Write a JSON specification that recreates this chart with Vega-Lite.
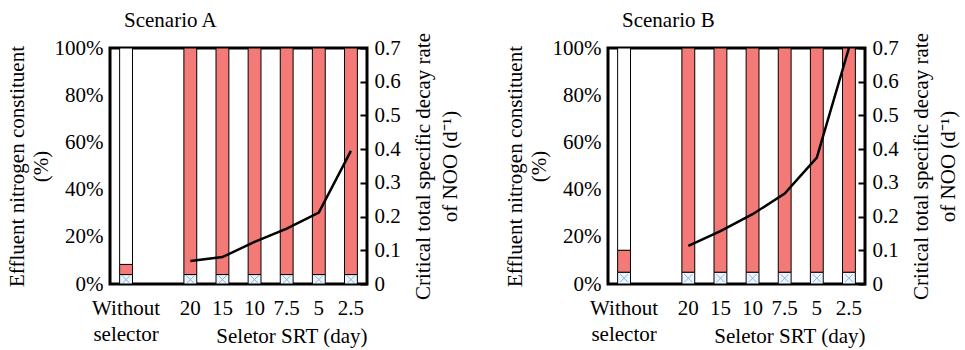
{
  "$schema": "https://vega.github.io/schema/vega-lite/v6.json",
  "padding": {"left": 4, "top": 8, "right": 5, "bottom": 0},
  "datasets": {
    "bars": [
      {"scen": "A", "cat": "Without selector", "part": "hatched", "ord": 1, "v": 0.04},
      {"scen": "A", "cat": "Without selector", "part": "red", "ord": 2, "v": 0.043},
      {"scen": "A", "cat": "Without selector", "part": "white", "ord": 3, "v": 0.917},
      {"scen": "A", "cat": "20", "part": "hatched", "ord": 1, "v": 0.04},
      {"scen": "A", "cat": "20", "part": "red", "ord": 2, "v": 0.96},
      {"scen": "A", "cat": "15", "part": "hatched", "ord": 1, "v": 0.04},
      {"scen": "A", "cat": "15", "part": "red", "ord": 2, "v": 0.96},
      {"scen": "A", "cat": "10", "part": "hatched", "ord": 1, "v": 0.04},
      {"scen": "A", "cat": "10", "part": "red", "ord": 2, "v": 0.96},
      {"scen": "A", "cat": "7.5", "part": "hatched", "ord": 1, "v": 0.04},
      {"scen": "A", "cat": "7.5", "part": "red", "ord": 2, "v": 0.96},
      {"scen": "A", "cat": "5", "part": "hatched", "ord": 1, "v": 0.04},
      {"scen": "A", "cat": "5", "part": "red", "ord": 2, "v": 0.96},
      {"scen": "A", "cat": "2.5", "part": "hatched", "ord": 1, "v": 0.04},
      {"scen": "A", "cat": "2.5", "part": "red", "ord": 2, "v": 0.96},
      {"scen": "B", "cat": "Without selector", "part": "hatched", "ord": 1, "v": 0.05},
      {"scen": "B", "cat": "Without selector", "part": "red", "ord": 2, "v": 0.093},
      {"scen": "B", "cat": "Without selector", "part": "white", "ord": 3, "v": 0.857},
      {"scen": "B", "cat": "20", "part": "hatched", "ord": 1, "v": 0.05},
      {"scen": "B", "cat": "20", "part": "red", "ord": 2, "v": 0.95},
      {"scen": "B", "cat": "15", "part": "hatched", "ord": 1, "v": 0.05},
      {"scen": "B", "cat": "15", "part": "red", "ord": 2, "v": 0.95},
      {"scen": "B", "cat": "10", "part": "hatched", "ord": 1, "v": 0.05},
      {"scen": "B", "cat": "10", "part": "red", "ord": 2, "v": 0.95},
      {"scen": "B", "cat": "7.5", "part": "hatched", "ord": 1, "v": 0.05},
      {"scen": "B", "cat": "7.5", "part": "red", "ord": 2, "v": 0.95},
      {"scen": "B", "cat": "5", "part": "hatched", "ord": 1, "v": 0.05},
      {"scen": "B", "cat": "5", "part": "red", "ord": 2, "v": 0.95},
      {"scen": "B", "cat": "2.5", "part": "hatched", "ord": 1, "v": 0.05},
      {"scen": "B", "cat": "2.5", "part": "red", "ord": 2, "v": 0.95}
    ],
    "rate": [
      {"scen": "A", "cat": "20", "k": 0.068},
      {"scen": "A", "cat": "15", "k": 0.08},
      {"scen": "A", "cat": "10", "k": 0.125},
      {"scen": "A", "cat": "7.5", "k": 0.164},
      {"scen": "A", "cat": "5", "k": 0.212},
      {"scen": "A", "cat": "2.5", "k": 0.395},
      {"scen": "B", "cat": "20", "k": 0.113},
      {"scen": "B", "cat": "15", "k": 0.157},
      {"scen": "B", "cat": "10", "k": 0.207},
      {"scen": "B", "cat": "7.5", "k": 0.268},
      {"scen": "B", "cat": "5", "k": 0.375},
      {"scen": "B", "cat": "2.5", "k": 0.7}
    ]
  },
  "hconcat": [
    {
      "width": 257,
      "height": 236,
      "title": {"text": "Scenario A", "anchor": "start", "frame": "group", "dx": 14, "offset": 1},
      "layer": [
        {
          "data": {"name": "bars"},
          "transform": [{"filter": "datum.scen == 'A'"}],
          "mark": {"type": "bar", "stroke": "black", "strokeWidth": 1},
          "encoding": {
            "x": {"field": "cat", "type": "nominal", "sort": null,
              "scale": {"domain": ["Without selector", "gap", "20", "15", "10", "7.5", "5", "2.5"], "paddingInner": 0.6, "paddingOuter": 0.3},
              "axis": {"labelAngle": 0, "ticks": false, "domain": false, "labelPadding": 13, "labelLineHeight": 26,
                "labelExpr": "datum.value == 'Without selector' ? ['Without', 'selector'] : datum.value == 'gap' ? '' : datum.value",
                "title": "Seletor SRT (day)", "titleAnchor": "end", "titlePadding": -19}},
            "y": {"field": "v", "type": "quantitative", "stack": "zero",
              "scale": {"domain": [0, 1]},
              "axis": {"values": [0, 0.2, 0.4, 0.6, 0.8, 1], "format": ".0%", "ticks": false, "domain": false, "grid": false, "labelPadding": 7,
                "title": ["Effluent nitrogen constituent", "(%)"], "titlePadding": 3, "titleLineHeight": 24}},
            "color": {"field": "part", "type": "nominal", "scale": {"domain": ["hatched", "red", "white"], "range": ["#eef4fb", "#f47a77", "#ffffff"]}, "legend": null},
            "order": {"field": "ord"}
          }
        },
        {
          "data": {"name": "bars"},
          "transform": [{"filter": "datum.scen == 'A' && datum.part == 'hatched'"}],
          "mark": {"type": "point", "shape": "M-1,-1L1,1M-1,1L1,-1", "filled": false, "stroke": "#5b9bd5", "strokeWidth": 1, "size": 64, "yOffset": 5},
          "encoding": {
            "x": {"field": "cat", "type": "nominal", "sort": null},
            "y": {"field": "v", "type": "quantitative", "scale": {"domain": [0, 1]}, "axis": null}
          }
        },
        {
          "data": {"name": "rate"},
          "transform": [{"filter": "datum.scen == 'A'"}],
          "mark": {"type": "line", "color": "black", "strokeWidth": 2.5},
          "encoding": {
            "x": {"field": "cat", "type": "nominal", "sort": null},
            "y": {"field": "k", "type": "quantitative", "scale": {"domain": [0, 0.7]},
              "axis": {"orient": "right", "values": [0, 0.1, 0.2, 0.3, 0.4, 0.5, 0.6, 0.7], "format": "~g", "tickSize": -7, "tickWidth": 2, "tickColor": "black", "domain": false, "grid": false, "labelPadding": 14,
                "title": ["Critical total specific decay rate", "of NOO (d⁻¹)"], "titleAngle": 270, "titlePadding": 6, "titleLineHeight": 27}}
          }
        }
      ],
      "resolve": {"scale": {"y": "independent"}}
    },
    {
      "width": 257,
      "height": 236,
      "title": {"text": "Scenario B", "anchor": "start", "frame": "group", "dx": 14, "offset": 1},
      "layer": [
        {
          "data": {"name": "bars"},
          "transform": [{"filter": "datum.scen == 'B'"}],
          "mark": {"type": "bar", "stroke": "black", "strokeWidth": 1},
          "encoding": {
            "x": {"field": "cat", "type": "nominal", "sort": null,
              "scale": {"domain": ["Without selector", "gap", "20", "15", "10", "7.5", "5", "2.5"], "paddingInner": 0.6, "paddingOuter": 0.3},
              "axis": {"labelAngle": 0, "ticks": false, "domain": false, "labelPadding": 13, "labelLineHeight": 26,
                "labelExpr": "datum.value == 'Without selector' ? ['Without', 'selector'] : datum.value == 'gap' ? '' : datum.value",
                "title": "Seletor SRT (day)", "titleAnchor": "end", "titlePadding": -19}},
            "y": {"field": "v", "type": "quantitative", "stack": "zero",
              "scale": {"domain": [0, 1]},
              "axis": {"values": [0, 0.2, 0.4, 0.6, 0.8, 1], "format": ".0%", "ticks": false, "domain": false, "grid": false, "labelPadding": 7,
                "title": ["Effluent nitrogen constituent", "(%)"], "titlePadding": 3, "titleLineHeight": 24}},
            "color": {"field": "part", "type": "nominal", "scale": {"domain": ["hatched", "red", "white"], "range": ["#eef4fb", "#f47a77", "#ffffff"]}, "legend": null},
            "order": {"field": "ord"}
          }
        },
        {
          "data": {"name": "bars"},
          "transform": [{"filter": "datum.scen == 'B' && datum.part == 'hatched'"}],
          "mark": {"type": "point", "shape": "M-1,-1L1,1M-1,1L1,-1", "filled": false, "stroke": "#5b9bd5", "strokeWidth": 1, "size": 64, "yOffset": 6},
          "encoding": {
            "x": {"field": "cat", "type": "nominal", "sort": null},
            "y": {"field": "v", "type": "quantitative", "scale": {"domain": [0, 1]}, "axis": null}
          }
        },
        {
          "data": {"name": "rate"},
          "transform": [{"filter": "datum.scen == 'B'"}],
          "mark": {"type": "line", "color": "black", "strokeWidth": 2.5},
          "encoding": {
            "x": {"field": "cat", "type": "nominal", "sort": null},
            "y": {"field": "k", "type": "quantitative", "scale": {"domain": [0, 0.7]},
              "axis": {"orient": "right", "values": [0, 0.1, 0.2, 0.3, 0.4, 0.5, 0.6, 0.7], "format": "~g", "tickSize": -7, "tickWidth": 2, "tickColor": "black", "domain": false, "grid": false, "labelPadding": 14,
                "title": ["Critical total specific decay rate", "of NOO (d⁻¹)"], "titleAngle": 270, "titlePadding": 6, "titleLineHeight": 27}}
          }
        }
      ],
      "resolve": {"scale": {"y": "independent"}}
    }
  ],
  "spacing": 40,
  "config": {
    "font": "Liberation Serif",
    "view": {"stroke": "black", "strokeWidth": 3},
    "axis": {"labelFont": "Liberation Serif", "labelFontSize": 21, "labelColor": "black", "titleFont": "Liberation Serif", "titleFontSize": 21, "titleFontWeight": "normal", "titleColor": "black"},
    "title": {"font": "Liberation Serif", "fontSize": 21, "fontWeight": "normal", "color": "black"}
  }
}
